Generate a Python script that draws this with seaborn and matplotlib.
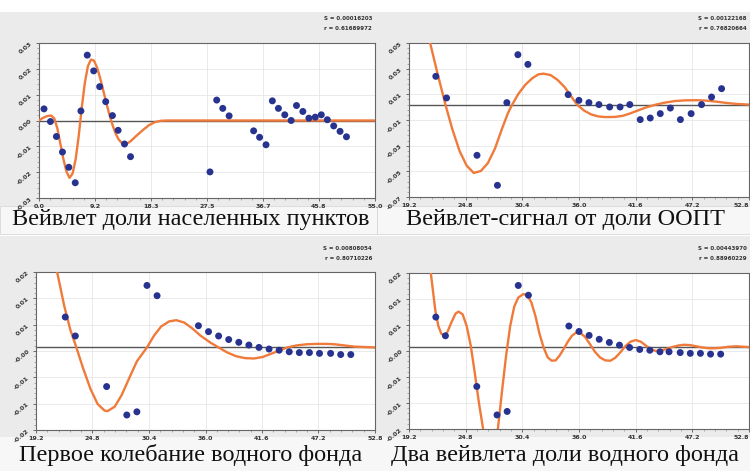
import numpy as np
import pandas as pd
import matplotlib
matplotlib.use("Agg")
import matplotlib.pyplot as plt
from matplotlib.patches import Rectangle
from matplotlib.ticker import AutoMinorLocator
import seaborn as sns

sns.set_theme(style="white")
plt.rcParams['font.family'] = ['DejaVu Sans']

# ---------------- data ----------------
# Panel 1: Вейвлет доли населенных пунктов
p1_x = [0.82, 1.87, 2.85, 3.84, 4.88, 5.93, 6.86, 7.90, 8.95, 9.93, 10.92, 12.02, 12.95, 14.00, 14.98,
        27.99, 29.09, 30.08, 31.12, 35.13, 36.11, 37.16, 38.20, 39.19, 40.23, 41.27, 42.15, 43.19,
        44.18, 45.22, 46.21, 47.20, 48.24, 49.28, 50.33]
p1_y = [0.0045, -0.0004, -0.0062, -0.0122, -0.0181, -0.0241, 0.0037, 0.0253, 0.0192, 0.0131, 0.0073,
        0.0019, -0.0038, -0.0091, -0.0140, -0.0199, 0.0079, 0.0047, 0.0018, -0.0040, -0.0065, -0.0094,
        0.0076, 0.0047, 0.0022, 0.0000, 0.0058, 0.0035, 0.0009, 0.0013, 0.0022, 0.0003, -0.0021,
        -0.0042, -0.0063]
p1_cx = [0.0, 0.5, 1.0, 1.5, 2.0, 2.5, 3.0, 3.5, 4.0, 4.5, 5.0, 5.5, 6.0, 6.5, 7.0, 7.5, 8.0, 8.5, 9.0,
         9.5, 10.0, 10.5, 11.0, 11.5, 12.0, 12.5, 13.0, 13.5, 14.0, 14.5, 15.0, 16.0, 17.0, 18.0, 19.0,
         20.0, 21.0, 55.0]
p1_cy = [0.0, 0.0008, 0.0014, 0.0018, 0.0019, 0.0008, -0.0030, -0.0090, -0.0150, -0.0198, -0.0222,
         -0.0205, -0.0150, -0.0060, 0.0050, 0.0145, 0.0210, 0.0236, 0.0232, 0.0205, 0.0165, 0.0118,
         0.0070, 0.0025, -0.0015, -0.0048, -0.0072, -0.0086, -0.0091, -0.0088, -0.0080, -0.0058,
         -0.0037, -0.0018, -0.0006, -0.0001, 0.0, 0.0]

# Panel 2: Вейвлет-сигнал от доли ООПТ
p2_x = [21.85, 22.91, 25.92, 27.94, 28.87, 29.96, 30.95, 34.93, 35.99, 36.98, 37.97, 39.03, 40.06,
        41.02, 42.05, 43.04, 44.03, 45.03, 46.02, 47.08, 48.11, 49.10, 50.09]
p2_y = [0.0213, 0.0050, -0.0382, -0.0608, 0.0015, 0.0376, 0.0303, 0.0075, 0.0032, 0.0015, 0.0,
        -0.0018, -0.0018, 0.0, -0.0113, -0.0101, -0.0068, -0.0026, -0.0113, -0.0068, 0.0, 0.0057,
        0.0120]
p2_cx = [20.8, 21.3, 22.0, 22.8, 23.5, 24.2, 24.9, 25.6, 26.3, 27.0, 27.7, 28.4, 29.0, 29.4, 30.0,
         30.7, 31.4, 32.0, 32.5, 33.2, 33.9, 34.6, 35.2, 35.8, 36.5, 37.2, 37.9, 38.6, 39.5, 40.3,
         41.0, 41.8, 42.6, 43.6, 44.5, 45.5, 46.5, 47.6, 48.6, 49.6, 50.6, 51.6, 52.8]
p2_cy = [0.065, 0.046, 0.024, 0.0, -0.019, -0.035, -0.046, -0.0515, -0.050, -0.044, -0.033, -0.018,
         -0.006, 0.0, 0.008, 0.015, 0.020, 0.0228, 0.0233, 0.0222, 0.0185, 0.0130, 0.0065, 0.0,
         -0.0045, -0.0074, -0.0089, -0.0094, -0.0093, -0.0085, -0.0068, -0.0045, -0.0022, 0.0,
         0.0015, 0.0027, 0.0032, 0.0033, 0.0030, 0.0022, 0.0012, 0.0005, 0.0]

# Panel 3: Первое колебание водного фонда
p3_x = [22.1, 23.1, 26.2, 28.2, 29.2, 30.2, 31.2, 35.3, 36.3, 37.3, 38.3, 39.3, 40.3, 41.3, 42.3,
        43.3, 44.3, 45.3, 46.3, 47.3, 48.4, 49.4, 50.4]
p3_y = [0.0077, 0.0029, -0.0099, -0.0171, -0.0163, 0.0157, 0.0131, 0.0055, 0.0040, 0.0029, 0.0020,
        0.0013, 0.0006, 0.0, -0.0004, -0.0007, -0.0011, -0.0013, -0.0013, -0.0015, -0.0015, -0.0018,
        -0.0018]
p3_cx = [20.8, 21.3, 22.0, 22.6, 23.2, 23.9, 24.6, 25.3, 26.0, 26.3, 27.0, 27.7, 28.4, 29.2, 30.2,
         30.9, 31.6, 32.4, 33.1, 33.9, 34.7, 35.5, 36.5, 37.3, 38.1, 39.0, 39.9, 40.8, 41.7, 42.5,
         43.3, 44.1, 45.0, 46.0, 47.0, 48.0, 48.8, 49.8, 50.8, 52.8]
p3_cy = [0.026, 0.019, 0.0105, 0.0045, 0.0, -0.0055, -0.0105, -0.0143, -0.0160, -0.0161, -0.0150,
         -0.0120, -0.0080, -0.0035, 0.0, 0.0030, 0.0053, 0.0066, 0.0069, 0.0063, 0.0048, 0.0030,
         0.0012, 0.0, -0.0012, -0.0022, -0.0027, -0.0028, -0.0024, -0.0016, -0.0008, 0.0, 0.0005,
         0.0008, 0.0009, 0.0009, 0.0008, 0.0005, 0.0002, 0.0]

# Panel 4: Два вейвлета доли водного фонда
p4_x = [21.85, 22.8, 25.9, 27.9, 28.9, 30.0, 31.0, 35.0, 36.0, 37.0, 38.0, 39.0, 40.0, 41.0, 42.0,
        43.0, 44.0, 44.9, 46.0, 47.0, 48.0, 49.0, 50.0]
p4_y = [0.0078, 0.0030, -0.0100, -0.0173, -0.0164, 0.0159, 0.0134, 0.0055, 0.0041, 0.0031, 0.0021,
        0.0013, 0.0006, 0.0, -0.0005, -0.0007, -0.0011, -0.0011, -0.0013, -0.0015, -0.0015, -0.0017,
        -0.0017]
p4_cx = [21.25, 21.5, 21.8, 22.1, 22.4, 22.7, 23.0, 23.4, 23.8, 24.1, 24.5, 24.9, 25.3, 25.7, 26.1,
         26.5, 26.9, 27.3, 27.7, 28.0, 28.4, 28.8, 29.2, 29.6, 30.0, 30.5, 30.9, 31.3, 31.7, 32.1,
         32.5, 32.9, 33.3, 33.7, 34.1, 34.5, 34.9, 35.3, 35.7, 36.1, 36.6, 37.1, 37.6, 38.1, 38.6,
         39.1, 39.6, 40.1, 40.6, 41.1, 41.6, 42.1, 42.6, 43.1, 43.6, 44.1, 44.6, 45.2, 45.8, 46.4,
         47.0, 47.6, 48.2, 48.8, 49.4, 50.0, 50.8, 51.6, 52.8]
p4_cy = [0.0213, 0.0160, 0.0095, 0.0055, 0.0035, 0.0030, 0.0040, 0.0065, 0.0087, 0.0092, 0.0085,
         0.0055, 0.0005, -0.0065, -0.0140, -0.0205, -0.0260, -0.0285, -0.0260, -0.0205, -0.0110,
         -0.0020, 0.0055, 0.0105, 0.0128, 0.0137, 0.0134, 0.0115, 0.0080, 0.0035, 0.0, -0.0025,
         -0.0034, -0.0033, -0.0020, -0.0003, 0.0015, 0.0030, 0.0038, 0.0038, 0.0027, 0.0008,
         -0.0012, -0.0026, -0.0033, -0.0034, -0.0026, -0.0012, 0.0004, 0.0015, 0.0019, 0.0015,
         0.0005, -0.0005, -0.0009, -0.0008, -0.0004, 0.0001, 0.0005, 0.0007, 0.0006, 0.0003, 0.0,
         -0.0002, -0.0002, -0.0001, 0.0002, 0.0003, 0.0001]

titles = ["Вейвлет доли населенных пунктов", "Вейвлет-сигнал от доли ООПТ",
          "Первое колебание водного фонда", "Два вейвлета доли водного фонда"]
stats = [("S = 0.00016203", "r = 0.61689972"), ("S = 0.00122168", "r = 0.76820664"),
         ("S = 0.00808054", "r = 0.80710226"), ("S = 0.00443970", "r = 0.88960229")]
xlims = [(0.0, 55.0), (19.2, 52.8), (19.2, 52.8), (19.2, 52.8)]
ylims = [(-0.03, 0.03), (-0.0696, 0.0464), (-0.0209, 0.0191), (-0.0209, 0.0191)]

panels = [(p1_x, p1_y, p1_cx, p1_cy), (p2_x, p2_y, p2_cx, p2_cy),
          (p3_x, p3_y, p3_cx, p3_cy), (p4_x, p4_y, p4_cx, p4_cy)]

# ---------------- layout ----------------
W, H = 750, 471
fig = plt.figure(figsize=(W / 100, H / 100), dpi=100, facecolor="white")

def rect(l, t, r, b, fc, ec="none", lw=0):
    fig.patches.append(Rectangle((l / W, 1 - b / H), (r - l) / W, (b - t) / H,
                                 transform=fig.transFigure, facecolor=fc, edgecolor=ec,
                                 linewidth=lw, zorder=-5))

# panel backgrounds (gray) and caption strips
rect(0, 12, 377, 206, "#ebebeb")
rect(377, 12, 750, 206, "#ebebeb")
rect(0, 236, 377, 437, "#ebebeb")
rect(377, 236, 750, 437, "#ebebeb")
rect(0, 206, 377, 234, "#f7f7f7", "#d8d8d8", 0.6)
rect(377, 206, 750, 234, "#f7f7f7", "#d8d8d8", 0.6)
rect(0, 437, 750, 471, "#f7f7f7")

axes_px = [(39, 43, 375, 198), (409, 43, 749, 197), (36, 272, 375, 430), (409, 273, 749, 429)]
caption_pos = [(191, 219), (565, 219), (191, 455), (565, 455)]
stat_pos = [(372, 19), (747, 19), (372, 249), (747, 249)]

for i, (l, t, r, b) in enumerate(axes_px):
    ax = fig.add_axes([l / W, 1 - b / H, (r - l) / W, (b - t) / H])
    ax.set_zorder(5)
    ax.set_facecolor("white")
    px, py, cx, cy = panels[i]
    ax.axhline(0, color="#555555", lw=1.0, zorder=2)
    sns.lineplot(x=cx, y=cy, ax=ax, color="#f07a3a", lw=1.7, estimator=None, sort=False, zorder=3)
    sns.scatterplot(x=px, y=py, ax=ax, color="#27338f", s=25, edgecolor="none", zorder=4)
    ax.set_xlim(*xlims[i])
    ax.set_ylim(*ylims[i])
    xt = np.linspace(xlims[i][0], xlims[i][1], 7)
    yt = np.linspace(ylims[i][0], ylims[i][1], 7)
    ax.set_xticks(xt)
    ax.set_xticklabels([f"{v:.1f}" for v in xt], fontsize=4.5, fontweight="bold", color="#333333")
    ax.set_yticks(yt)
    ax.set_yticklabels([f"{v:.2f}" for v in yt], fontsize=4.5, fontweight="bold", color="#333333",
                       rotation=40)
    if i in (1, 3):
        ax.get_xticklabels()[-1].set_ha("right")
    ax.yaxis.set_minor_locator(AutoMinorLocator(5))
    ax.xaxis.set_minor_locator(AutoMinorLocator(5))
    ax.tick_params(axis="both", which="major", length=2.5, width=0.6, pad=1.5, colors="#555555",
                   labelcolor="#333333", direction="out")
    ax.tick_params(axis="both", which="minor", length=1.5, width=0.4, colors="#777777")
    ax.tick_params(left=True, bottom=True, which="both")
    ax.grid(True, color="#e6e6e6", lw=0.6)
    for s in ax.spines.values():
        s.set_color("#666666")
        s.set_linewidth(0.8)
    ax.set_xlabel("")
    ax.set_ylabel("")
    cxp, cyp = caption_pos[i]
    fig.text(cxp / W, 1 - cyp / H, titles[i], ha="center", va="center",
             fontsize=17.5, family="Liberation Serif", color="#111111")
    sx, sy = stat_pos[i]
    fig.text(sx / W, 1 - sy / H, stats[i][0], ha="right", va="center", fontsize=4,
             fontweight="bold", color="#333333")
    fig.text(sx / W, 1 - (sy + 9) / H, stats[i][1], ha="right", va="center", fontsize=4,
             fontweight="bold", color="#333333")

fig.savefig("out.png", dpi=100, facecolor="white")
